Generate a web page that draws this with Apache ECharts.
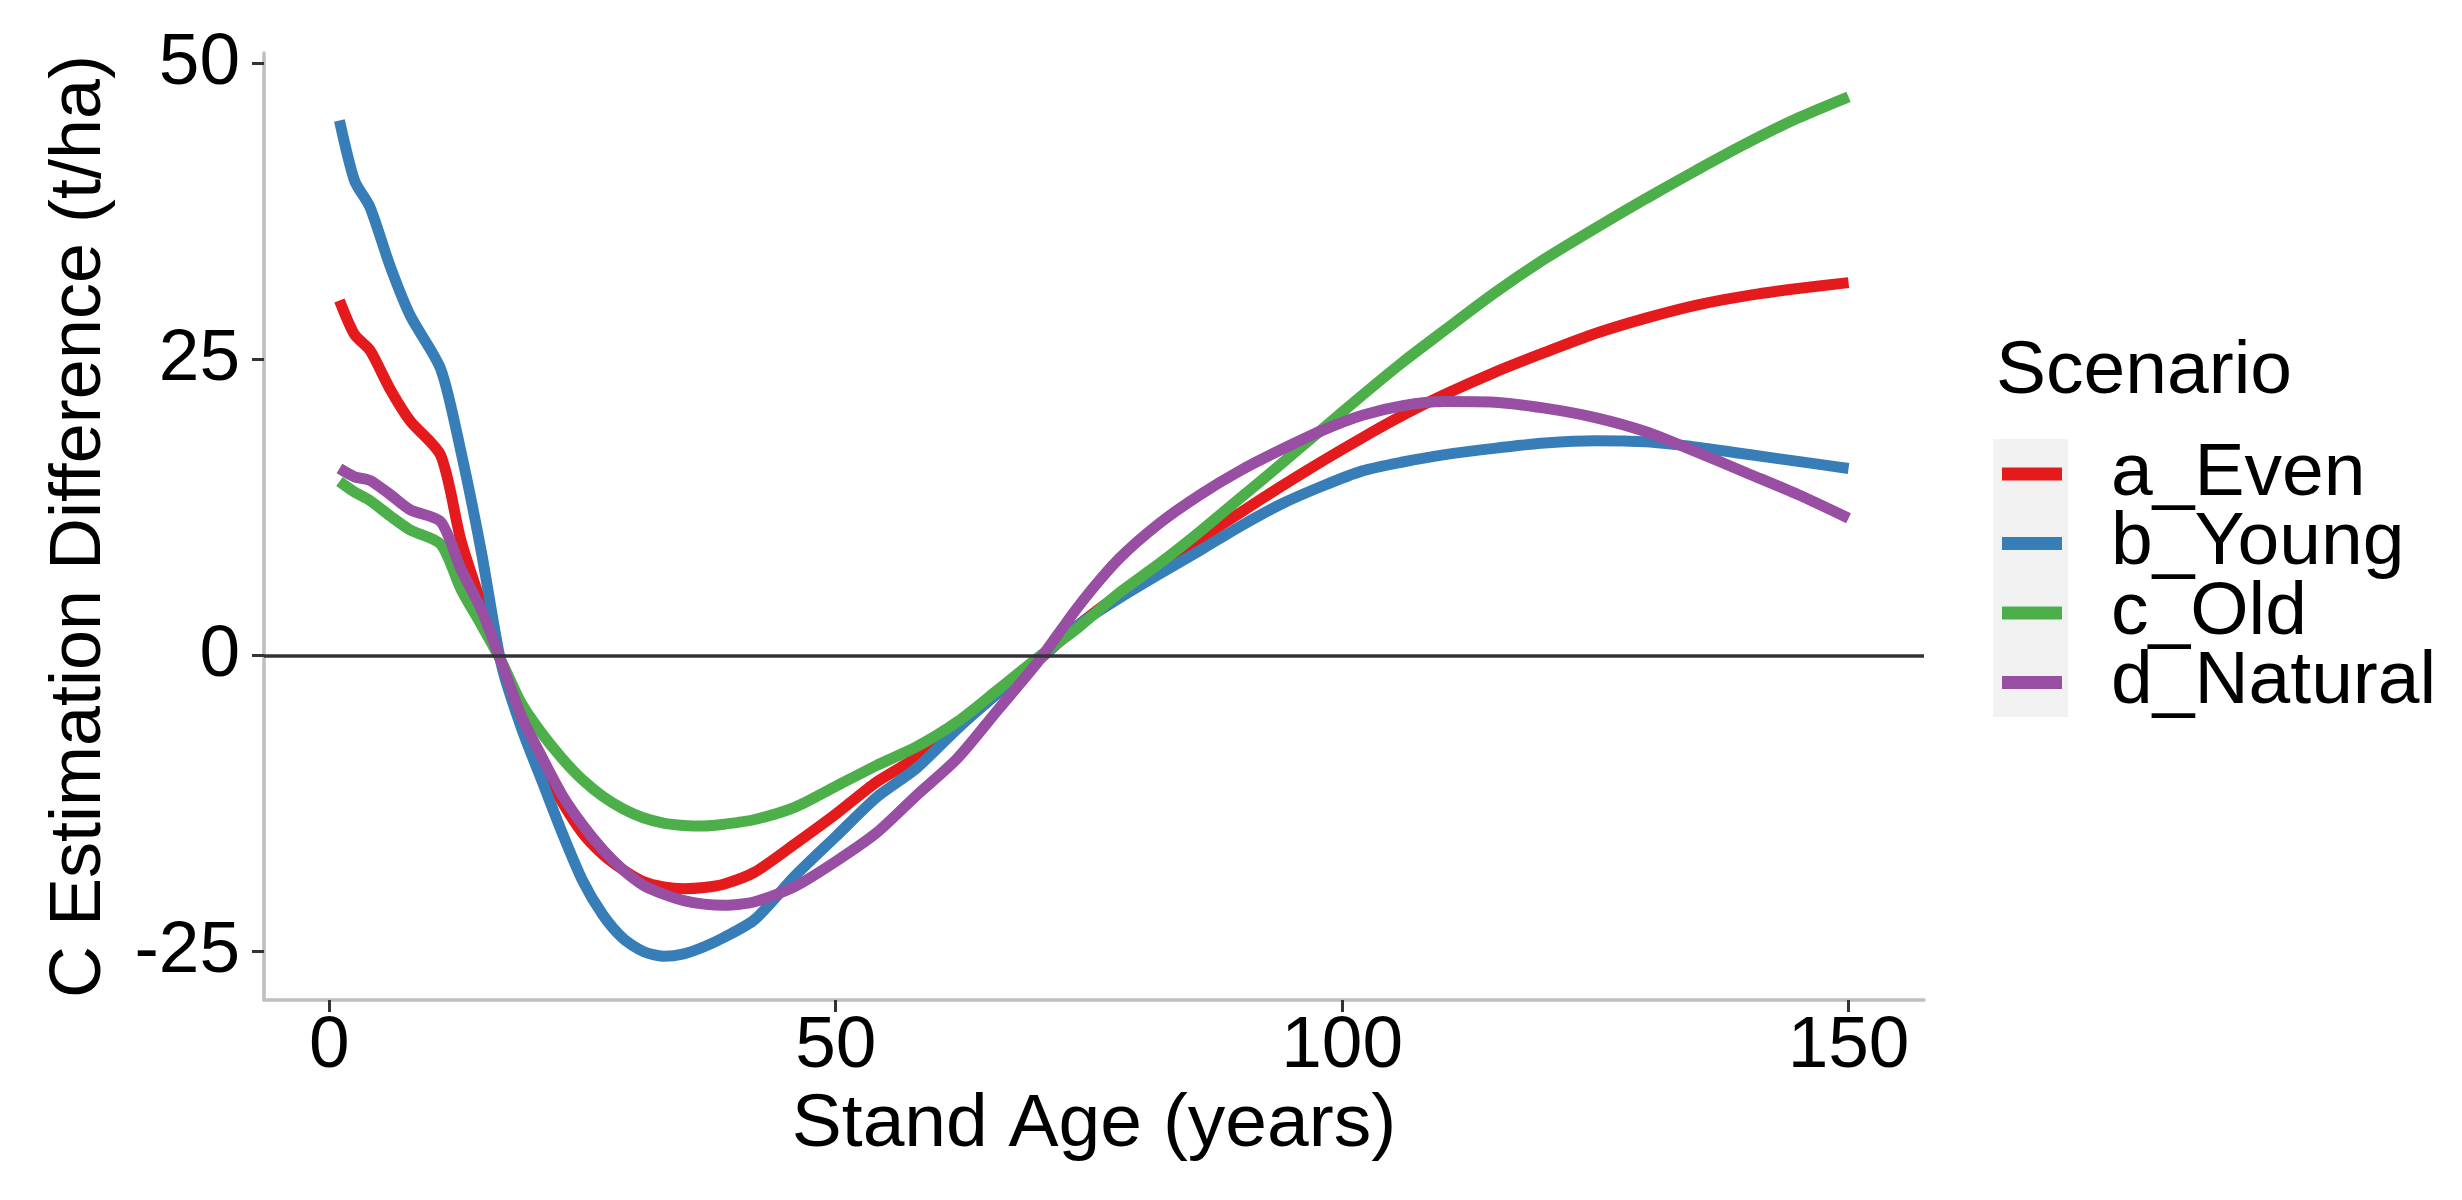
<!DOCTYPE html>
<html>
<head>
<meta charset="utf-8">
<script src="https://cdn.jsdelivr.net/npm/echarts@6/dist/echarts.min.js"></script>
<style>
html,body{margin:0;padding:0;background:#fff;}
#chart{width:2462px;height:1200px;}
</style>
</head>
<body>
<div id="chart"></div>
<script>
// Stand age (years)
var ages = [1, 2.5, 4, 6, 8, 11, 13, 15, 17, 19, 21, 23, 25, 27, 29, 31, 33, 35, 37, 39, 42, 46, 50, 54, 58, 62, 66, 70, 74, 78, 82, 86, 90, 94, 98, 102, 106, 110, 115, 120, 125, 130, 135, 140, 145, 150];
var scenarioNames = ['a_Even', 'b_Young', 'c_Old', 'd_Natural'];
var evenVals = [30.0, 27.1, 25.8, 22.5, 19.8, 16.9, 9.7, 4.4, -0.6, -5.4, -9.2, -12.4, -15.0, -16.8, -18.1, -19.1, -19.55, -19.7, -19.6, -19.3, -18.3, -15.9, -13.4, -10.7, -8.6, -5.8, -3.0, -0.4, 2.6, 5.2, 7.7, 9.9, 12.1, 14.3, 16.4, 18.4, 20.3, 22.0, 23.9, 25.6, 27.2, 28.5, 29.6, 30.4, 31.0, 31.5];
var youngVals = [45.2, 40.1, 37.9, 32.9, 28.7, 24.2, 17.2, 8.8, -0.8, -6.2, -10.6, -15.0, -19.0, -21.9, -23.9, -25.0, -25.4, -25.2, -24.6, -23.8, -22.3, -18.6, -15.3, -12.0, -9.5, -6.2, -3.2, -0.4, 2.6, 4.85, 6.9, 8.9, 10.95, 12.8, 14.3, 15.6, 16.35, 16.95, 17.5, 17.95, 18.15, 18.05, 17.6, 17.0, 16.4, 15.8];
var oldVals = [14.7, 13.8, 13.1, 11.8, 10.6, 9.4, 5.6, 2.6, -0.5, -4.1, -6.6, -8.7, -10.5, -11.9, -12.95, -13.7, -14.15, -14.35, -14.4, -14.25, -13.85, -12.8, -11.05, -9.3, -7.7, -5.6, -2.9, -0.15, 2.4, 5.3, 7.8, 10.5, 13.35, 16.2, 19.1, 22.0, 24.8, 27.4, 30.6, 33.5, 36.1, 38.6, 41.0, 43.3, 45.4, 47.2];
var naturalVals = [15.8, 15.1, 14.8, 13.6, 12.3, 11.3, 7.3, 3.9, -0.6, -5.2, -8.6, -11.8, -14.3, -16.4, -18.1, -19.4, -20.15, -20.7, -21.0, -21.1, -20.8, -19.5, -17.4, -15.0, -11.8, -8.7, -4.6, -0.5, 4.2, 8.2, 11.2, 13.6, 15.65, 17.4, 19.0, 20.3, 21.1, 21.45, 21.4, 20.9, 20.1, 18.9, 17.2, 15.4, 13.6, 11.6];
var xTicks = [0, 50, 100, 150];
var yTicks = [-25, 0, 25, 50];

var colors = ['#E41A1C', '#377EB8', '#4DAF4A', '#984EA3'];
var allVals = [evenVals, youngVals, oldVals, naturalVals];
var FONT = "'Liberation Sans', Arial, sans-serif";

function pairs(vals) {
  return ages.map(function (a, i) { return [a, vals[i]]; });
}

var series = scenarioNames.map(function (name, k) {
  var s = {
    name: name,
    type: 'line',
    data: pairs(allVals[k]),
    showSymbol: false,
    smooth: 0.25,
    lineStyle: { color: colors[k], width: 11 },
    itemStyle: { color: colors[k] },
    z: 3
  };
  if (k === 0) {
    s.markLine = {
      silent: true,
      symbol: ['none', 'none'],
      label: { show: false },
      lineStyle: { color: '#333333', width: 3.5, type: 'solid' },
      data: [{ yAxis: 0 }],
      animation: false
    };
  }
  return s;
});

var chart = echarts.init(document.getElementById('chart'));
chart.setOption({
  animation: false,
  backgroundColor: '#ffffff',
  textStyle: { fontFamily: FONT },
  title: {
    text: 'Scenario',
    left: 1996,
    top: 335,
    padding: 0,
    textStyle: { fontFamily: FONT, fontSize: 75, fontWeight: 'normal', color: '#000' }
  },
  graphic: [{
    type: 'rect',
    left: 1993,
    top: 439,
    shape: { width: 75, height: 278 },
    style: { fill: '#F2F2F2' },
    z: 0,
    silent: true
  }],
  legend: {
    orient: 'vertical',
    left: 2002,
    top: 436.5,
    padding: 0,
    itemGap: -5.5,
    itemWidth: 60,
    itemHeight: 13,
    icon: 'rect',
    z: 10,
    data: scenarioNames,
    textStyle: { fontFamily: FONT, fontSize: 75, color: '#000', lineHeight: 75, padding: [0, 0, 0, 44] }
  },
  grid: { left: 264, right: 538, top: 53, bottom: 200, containLabel: false },
  xAxis: {
    type: 'value',
    min: -6.45,
    max: 157.45,
    name: 'Stand Age (years)',
    nameLocation: 'middle',
    nameGap: 88,
    nameTextStyle: { fontFamily: FONT, fontSize: 75, color: '#000' },
    axisLine: { onZero: false, lineStyle: { color: '#BEBEBE', width: 3.5 } },
    axisTick: { show: true, customValues: xTicks, length: 12, lineStyle: { color: '#333333', width: 3 } },
    axisLabel: { customValues: xTicks, margin: 10, fontFamily: FONT, fontSize: 73, color: '#000' },
    splitLine: { show: false }
  },
  yAxis: {
    type: 'value',
    min: -29.1,
    max: 50.9,
    name: 'C Estimation Difference (t/ha)',
    nameLocation: 'middle',
    nameGap: 148,
    nameRotate: 90,
    nameTextStyle: { fontFamily: FONT, fontSize: 72, color: '#000' },
    axisLine: { onZero: false, lineStyle: { color: '#BEBEBE', width: 3.5 } },
    axisTick: { show: true, customValues: yTicks, length: 12, lineStyle: { color: '#333333', width: 3 } },
    axisLabel: { customValues: yTicks, margin: 24, fontFamily: FONT, fontSize: 73, color: '#000' },
    splitLine: { show: false }
  },
  series: series
});
</script>
</body>
</html>
